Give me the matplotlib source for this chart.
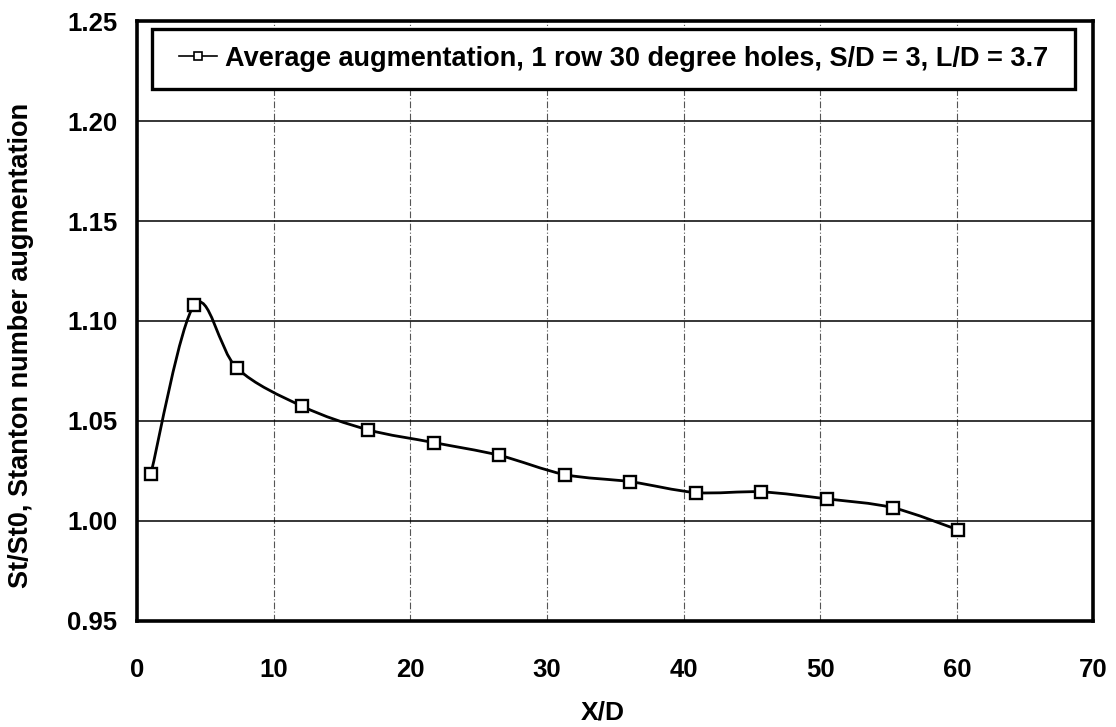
import matplotlib
matplotlib.use("Agg")
import matplotlib.pyplot as plt
from matplotlib.path import Path
from matplotlib.patches import PathPatch, Rectangle
import numpy as np

# data
xd = [1.0, 4.2, 7.3, 12.1, 16.9, 21.7, 26.5, 31.3, 36.1, 40.9, 45.7, 50.5, 55.3, 60.1]
aug = [1.0233, 1.108, 1.0765, 1.0573, 1.0456, 1.0392, 1.0328, 1.0232, 1.0196, 1.0142,
       1.0145, 1.0110, 1.0066, 0.9955]
label = "Average augmentation, 1 row 30 degree holes, S/D = 3, L/D = 3.7"
xticks = [0, 10, 20, 30, 40, 50, 60, 70]
yticks = [0.95, 1.00, 1.05, 1.10, 1.15, 1.20, 1.25]

plt.rcParams['font.family'] = ["Liberation Sans", "DejaVu Sans"]
plt.rcParams['font.weight'] = 'bold'

fig = plt.figure(figsize=(11.16, 7.27), dpi=100)
ax = fig.add_axes([0.1228, 0.146, 0.857, 0.825])

# smoothed line through the points (catmull-rom as bezier segments)
pts = np.column_stack([xd, aug])
verts = [pts[0]]
codes = [Path.MOVETO]
n = len(pts)
for i in range(n - 1):
    p0 = pts[i - 1] if i > 0 else pts[i]
    p1 = pts[i]
    p2 = pts[i + 1]
    p3 = pts[i + 2] if i + 2 < n else pts[i + 1]
    c1 = p1 + (p2 - p0) / 6.0
    c2 = p2 - (p3 - p1) / 6.0
    verts += [c1, c2, p2]
    codes += [Path.CURVE4] * 3
ax.add_patch(PathPatch(Path(verts, codes), fill=False, lw=2.0, color="black", zorder=3))

ax.plot(xd, aug, lw=0, marker="s", ms=8.5, mfc="white", mec="black", mew=1.7, zorder=4)
h, = ax.plot([], [], linestyle="-", color="black", lw=1.2, marker="s", ms=6,
             mfc="white", mec="black", mew=1.2)

ax.set_xlim(0, 70)
ax.set_ylim(0.95, 1.25)
ax.set_xticks(xticks)
ax.set_yticks(yticks)
ax.set_yticklabels(["%.2f" % v for v in yticks])
ax.tick_params(axis="x", length=0, pad=27, labelsize=18.5)
ax.tick_params(axis="y", length=0, pad=14, labelsize=18.5)
ax.yaxis.grid(True, color="black", lw=1.1)
ax.xaxis.grid(True, color="#555555", lw=0.8, linestyle=(0, (6, 2, 1, 2)))
ax.set_axisbelow(True)
for s in ax.spines.values():
    s.set_linewidth(2.6)

ax.set_xlabel("X/D", fontsize=19, fontweight="bold")
ax.xaxis.set_label_coords(0.487, -0.133)
ax.set_ylabel("St/St0, Stanton number augmentation", fontsize=19.5, fontweight="bold")
ax.yaxis.set_label_coords(-0.108, 0.46)

# legend box
ax.add_patch(Rectangle((0.0157, 0.887), 0.9655, 0.1, transform=ax.transAxes, fill=True,
                       facecolor="white", edgecolor="black", lw=2.4, zorder=5))
leg = ax.legend([h], [label], loc="center", bbox_to_anchor=(0.498, 0.937),
                fontsize=19.5, frameon=False, handlelength=1.4, handletextpad=0.3,
                borderpad=0.2)
leg.set_zorder(6)

fig.savefig("out.png", dpi=100)
